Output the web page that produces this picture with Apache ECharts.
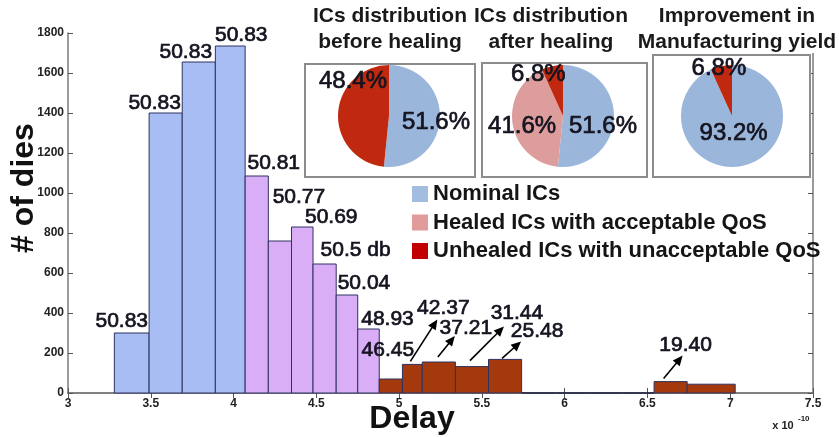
<!DOCTYPE html>
<html>
<head>
<meta charset="utf-8">
<script src="https://cdn.jsdelivr.net/npm/echarts@6/dist/echarts.min.js"></script>
<style>
  html, body { margin: 0; padding: 0; background: #fff; }
  #chart { width: 839px; height: 437px; }
</style>
</head>
<body>
<div id="chart"></div>
<script>
// ---- Histogram of die delay (x in units of 1e-10 s) ----
const binLeft   = [3.28, 3.49, 3.69, 3.89, 4.07, 4.21, 4.35, 4.48, 4.62, 4.75, 4.88, 5.02, 5.14, 5.34, 5.54, 5.74, 5.95, 6.15, 6.35, 6.54, 6.74];
const binRight  = [3.49, 3.69, 3.89, 4.07, 4.21, 4.35, 4.48, 4.62, 4.75, 4.88, 5.02, 5.14, 5.34, 5.54, 5.74, 5.95, 6.15, 6.35, 6.54, 6.74, 7.03];
const dieCounts = [300, 1400, 1655, 1735, 1085, 760, 830, 645, 490, 320, 70, 143, 155, 132, 168, 0, 0, 0, 0, 57, 44];
// 0 = nominal, 1 = healed, 2 = unhealed
const binClass  = [0, 0, 0, 0, 1, 1, 1, 1, 1, 1, 2, 2, 2, 2, 2, 2, 2, 2, 2, 2, 2];
const snrLabels = ['50.83', '50.83', '50.83', '50.83', '50.81', '50.77', '50.69', '50.5 db', '50.04', '48.93',
                   '46.45', '42.37', '37.21', '31.44', '25.48', '', '', '', '', '19.40', ''];

// axis ranges / ticks
const xMin = 3, xMax = 7.5, xStep = 0.5;
const yMin = 0, yMax = 1800, yStep = 200;

// ---- Pie panels ----
const pieTitles = [['ICs distribution', 'before healing'], ['ICs distribution', 'after healing'], ['Improvement in', 'Manufacturing yield']];
const pieBeforeNames  = ['Nominal ICs', 'Unhealed ICs with unacceptable QoS'];
const pieBeforeValues = [51.6, 48.4];
const pieAfterNames   = ['Nominal ICs', 'Healed ICs with acceptable QoS', 'Unhealed ICs with unacceptable QoS'];
const pieAfterValues  = [51.6, 41.6, 6.8];
const pieYieldNames   = ['Nominal ICs', 'Unhealed ICs with unacceptable QoS'];
const pieYieldValues  = [93.2, 6.8];
const legendNames = ['Nominal ICs', 'Healed ICs with acceptable QoS', 'Unhealed ICs with unacceptable QoS'];

// ---- Styling ----
const FONT = '"Liberation Sans", Arial, Helvetica, sans-serif';
const barFill = ['#a9bdf5', '#d9aef6', '#a3390d'];
const barEdge = '#2e3260';
const sliceColor = {
  'Nominal ICs': '#9bb6db',
  'Healed ICs with acceptable QoS': '#de9d9d',
  'Unhealed ICs with unacceptable QoS': '#c0290f'
};
const legendColor = ['#a3bde0', '#e29b9b', '#c20000'];
const numInk = '#141420';

// label placement relative to the top-centre of each bar (pixels)
const labelOffset = {
  0: [-10, -12], 1: [-11, -10], 2: [-13, -10], 3: [11, -11], 4: [17, -13],
  5: [19, -44], 6: [29, -10], 7: [31, -14], 8: [17, -12], 9: [19, -10], 10: [-3, -29],
  11: [31, -56], 12: [27, -34], 13: [45, -53], 14: [32, -28], 19: [15, -36]
};
// arrow tail / tip relative to the top-centre of the bar (pixels)
const arrowPath = {
  11: [-2, -3, 25, -45],
  12: [-1, -5, 16, -26],
  13: [-2, -6, 32, -40],
  14: [-3, -1, 16, -18],
  19: [-7, -3, 12, -26]
};

// pie geometry and label nudges
const pieCenters = [[389, 116], [563, 116], [732, 116]];
const pieRadius = 51;
const pieLabelNudge = [
  [[18.5, 4.5], [-7.5, -33]],
  [[11.5, 8.7], [-12.8, 5.8], [-18.6, -14]],
  [[-4.4, -10], [-7, -20]]
];
const panelBoxes = [[305, 64, 170, 113], [482, 63, 165, 114], [653, 55, 157, 122]];

function arrowChildren(x0, y0, x1, y1) {
  const dx = x1 - x0, dy = y1 - y0;
  const len = Math.sqrt(dx * dx + dy * dy);
  const ux = dx / len, uy = dy / len;
  const nx = -uy, ny = ux;
  const head = 10, half = 4.5;
  const bx = x1 - ux * head, by = y1 - uy * head;
  return [
    { type: 'line', shape: { x1: x0, y1: y0, x2: bx + ux * 2, y2: by + uy * 2 }, style: { stroke: '#000', lineWidth: 1.6 } },
    { type: 'polygon', shape: { points: [[x1, y1], [bx + nx * half, by + ny * half], [bx - nx * half, by - ny * half]] }, style: { fill: '#000' } }
  ];
}

function renderBin(params, api) {
  const i = params.dataIndex;
  const x0 = api.value(0), x1 = api.value(1), n = api.value(2), cls = api.value(3);
  const pTop = api.coord([x0, n]);
  const pBase = api.coord([x1, 0]);
  const children = [];
  if (n > 0) {
    children.push({
      type: 'rect',
      shape: { x: pTop[0], y: pTop[1], width: pBase[0] - pTop[0], height: pBase[1] - pTop[1] },
      style: { fill: barFill[cls], stroke: barEdge, lineWidth: 1 }
    });
  } else {
    children.push({
      type: 'line',
      shape: { x1: pTop[0], y1: pBase[1], x2: pBase[0], y2: pBase[1] },
      style: { stroke: '#1c1f40', lineWidth: 1.5 }
    });
  }
  const txt = snrLabels[i];
  if (txt) {
    const cx = (pTop[0] + pBase[0]) / 2, top = pTop[1];
    const off = labelOffset[i] || [0, -12];
    children.push({
      type: 'text',
      x: cx + off[0], y: top + off[1],
      style: { text: txt, font: '21px ' + FONT, fill: numInk, stroke: numInk, lineWidth: 0.7,
               align: 'center', verticalAlign: 'middle' }
    });
    const a = arrowPath[i];
    if (a) {
      arrowChildren(cx + a[0], top + a[1], cx + a[2], top + a[3]).forEach(c => children.push(c));
    }
  }
  return { type: 'group', children: children };
}

const binData = binLeft.map((l, i) => [l, binRight[i], dieCounts[i], binClass[i]]);

function pieSeries(k, names, values) {
  return {
    type: 'pie',
    center: pieCenters[k],
    radius: pieRadius,
    startAngle: 90,
    clockwise: true,
    z: 4,
    silent: true,
    avoidLabelOverlap: false,
    label: {
      show: true, position: 'inside',
      formatter: p => p.value.toFixed(1) + '%',
      fontFamily: FONT, fontSize: 24, color: numInk,
      textBorderColor: numInk, textBorderWidth: 0.7
    },
    labelLine: { show: false },
    labelLayout: p => ({ dx: pieLabelNudge[k][p.dataIndex][0], dy: pieLabelNudge[k][p.dataIndex][1] }),
    emphasis: { disabled: true },
    data: names.map((nm, i) => ({ name: nm, value: values[i], itemStyle: { color: sliceColor[nm] } }))
  };
}

const graphics = [];
// blank band behind the pie titles
graphics.push({ type: 'rect', z: 1, shape: { x: 300, y: 0, width: 539, height: 53 }, style: { fill: '#fff' } });
panelBoxes.forEach(b => graphics.push({
  type: 'rect', z: 1, shape: { x: b[0], y: b[1], width: b[2], height: b[3] },
  style: { fill: '#fff', stroke: '#8c8c8c', lineWidth: 2 }
}));
const titleCenters = [390, 551, 737];
pieTitles.forEach((t, k) => {
  graphics.push({ type: 'text', z: 5, x: titleCenters[k], y: 16, style: { text: t[0], font: 'bold 21px ' + FONT, fill: '#1a1a1a', align: 'center', verticalAlign: 'middle' } });
  graphics.push({ type: 'text', z: 5, x: titleCenters[k], y: 42, style: { text: t[1], font: 'bold 21px ' + FONT, fill: '#1a1a1a', align: 'center', verticalAlign: 'middle' } });
});
graphics.push({ type: 'text', z: 5, x: 412, y: 419, style: { text: 'Delay', font: 'bold 32px ' + FONT, fill: '#111', align: 'center', verticalAlign: 'middle' } });
graphics.push({ type: 'text', z: 5, x: 24, y: 188, rotation: Math.PI / 2, style: { text: '# of dies', font: 'bold 32px ' + FONT, fill: '#111', align: 'center', verticalAlign: 'middle' } });
graphics.push({ type: 'text', z: 5, x: 783, y: 426, style: { text: 'x 10', font: 'bold 11px ' + FONT, fill: '#222', align: 'center', verticalAlign: 'middle' } });
graphics.push({ type: 'text', z: 5, x: 798, y: 419, style: { text: '-10', font: 'bold 8px ' + FONT, fill: '#222', align: 'left', verticalAlign: 'middle' } });

const axisLineStyle = { color: '#7a7a7a', width: 1.5 };
const tickStyle = { inside: true, length: 5, lineStyle: { color: '#555', width: 1 } };
const tickLabel = { fontFamily: FONT, fontWeight: 'bold', fontSize: 12, color: '#222', formatter: v => String(v) };

const chart = echarts.init(document.getElementById('chart'), null, { renderer: 'canvas' });
chart.setOption({
  animation: false,
  backgroundColor: '#fff',
  grid: { left: 68, right: 26, top: 33, bottom: 44 },
  xAxis: [
    { type: 'value', min: xMin, max: xMax, interval: xStep, position: 'bottom',
      axisLine: { show: true, lineStyle: axisLineStyle }, axisTick: tickStyle,
      axisLabel: Object.assign({ margin: 5 }, tickLabel), splitLine: { show: false } },
    { type: 'value', min: xMin, max: xMax, interval: xStep, position: 'top',
      axisLine: { show: true, lineStyle: axisLineStyle }, axisTick: tickStyle,
      axisLabel: { show: false }, splitLine: { show: false } }
  ],
  yAxis: [
    { type: 'value', min: yMin, max: yMax, interval: yStep, position: 'left',
      axisLine: { show: true, lineStyle: axisLineStyle }, axisTick: tickStyle,
      axisLabel: Object.assign({ margin: 4 }, tickLabel), splitLine: { show: false } },
    { type: 'value', min: yMin, max: yMax, interval: yStep, position: 'right',
      axisLine: { show: true, lineStyle: axisLineStyle }, axisTick: tickStyle,
      axisLabel: { show: false }, splitLine: { show: false } }
  ],
  legend: {
    orient: 'vertical', left: 412, top: 183, padding: 0,
    itemWidth: 16, itemHeight: 16, itemGap: 6.5, icon: 'rect', selectedMode: false,
    textStyle: { fontFamily: FONT, fontWeight: 'bold', fontSize: 22, color: '#151515' },
    data: legendNames.map((n, i) => ({ name: n, itemStyle: { color: legendColor[i] } }))
  },
  graphic: { elements: graphics },
  series: [
    {
      type: 'custom', name: 'dies', renderItem: renderBin, z: 2,
      encode: { x: [0, 1], y: 2 }, data: binData, silent: true
    },
    pieSeries(0, pieBeforeNames, pieBeforeValues),
    pieSeries(1, pieAfterNames, pieAfterValues),
    pieSeries(2, pieYieldNames, pieYieldValues)
  ]
});
</script>
</body>
</html>
